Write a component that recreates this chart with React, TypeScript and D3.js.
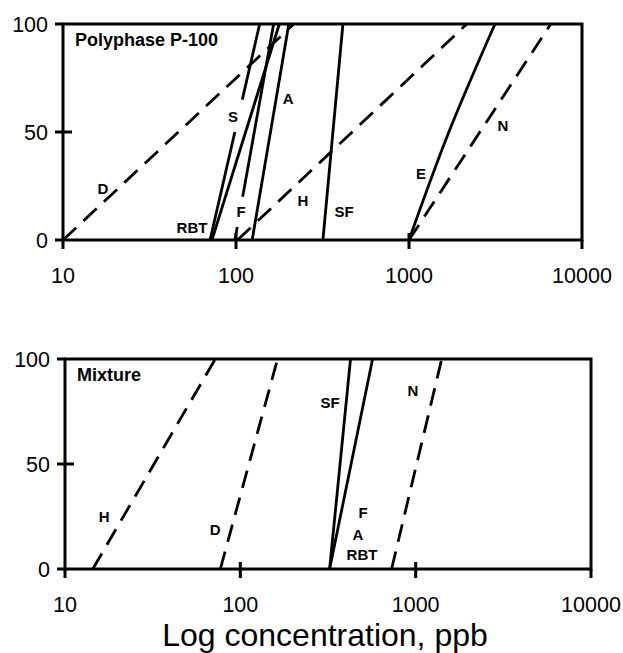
import React from "react";
import * as d3 from "d3";

// ---------- data ----------
const xTicks = [10, 100, 1000, 10000];
const yTicks = [0, 50, 100];
const xTickLabels = ["10", "100", "1000", "10000"];
const yTickLabels = ["0", "50", "100"];
const xTitle = "Log concentration, ppb";

// Top panel: Polyphase P-100 (each line: concentration at 0% and at 100%)
const topTitle = "Polyphase P-100";
const topNames = ["D", "S", "RBT", "F", "A", "H", "SF", "E", "N"];
const topDashed = [true, false, false, false, false, true, false, false, true];
const topPoints: number[][][] = [
  [[10, 0], [216, 100]],
  [[70.8, 0], [137, 100]],
  [[72.6, 0], [178, 100]],
  [[98.6, 0], [165, 100]],
  [[124, 0], [202, 100]],
  [[102, 0], [2160, 100]],
  [[318, 0], [415, 100]],
  [[1000, 0], [1700, 50], [3140, 100]],
  [[1000, 0], [6600, 100]],
];
// y-ranges (in %) where a line is interrupted by its label
const topGaps: (number[] | null)[] = [null, [50, 65], null, [6, 20], null, null, null, null, null];
const topLabelX = [17, 96, 55.7, 107, 200, 244, 421, 1172, 3491];
const topLabelY = [24, 57, 5.6, 13.4, 65.7, 18.5, 13, 30.6, 53];

// Bottom panel: Mixture
const botTitle = "Mixture";
const botDashed = [true, true, false, false, true];
const botPoints: number[][][] = [
  [[14.4, 0], [72, 100]],
  [[76.9, 0], [163, 100]],
  [[323, 0], [425, 100]],
  [[323, 0], [568, 100]],
  [[729, 0], [1408, 100]],
];
const botLabels = ["H", "D", "SF", "N", "F", "A", "RBT"];
const botLabelX = [16.7, 71.8, 325, 966, 501, 469, 494];
const botLabelY = [24.8, 18.6, 79.5, 85.2, 26.7, 16.2, 6.7];

const FONT = "'Liberation Sans', Arial, Helvetica, sans-serif";

type PanelProps = {
  left: number;
  right: number;
  top: number;
  bottom: number;
  title: string;
  points: number[][][];
  dashed: boolean[];
  gaps: (number[] | null)[];
  labels: string[];
  labelX: number[];
  labelY: number[];
};

function Panel(p: PanelProps) {
  const x = d3.scaleLog().domain([10, 10000]).range([p.left, p.right]);
  const y = d3.scaleLinear().domain([0, 100]).range([p.bottom, p.top]);
  const line = d3
    .line<number[]>()
    .x((d) => x(d[0]))
    .y((d) => y(d[1]))
    .curve(d3.curveNatural);

  // split a line into segments, removing the gap range
  const segs = (pts: number[][], gap: number[] | null): number[][][] => {
    if (!gap || pts.length !== 2) return [pts];
    const [a, b] = pts;
    const at = (v: number) => {
      const t = (v - a[1]) / (b[1] - a[1]);
      const lx = Math.log10(a[0]) + t * (Math.log10(b[0]) - Math.log10(a[0]));
      return [Math.pow(10, lx), v];
    };
    return [
      [a, at(gap[0])],
      [at(gap[1]), b],
    ];
  };

  return (
    <g>
      {p.points.map((pts, i) =>
        segs(pts, p.gaps[i]).map((s, j) => (
          <path
            key={`l${i}-${j}`}
            d={line(s) || ""}
            fill="none"
            stroke="#000"
            strokeWidth={2.8}
            strokeDasharray={p.dashed[i] ? "18,10" : undefined}
          />
        ))
      )}
      <rect
        x={p.left}
        y={p.top}
        width={p.right - p.left}
        height={p.bottom - p.top}
        fill="none"
        stroke="#000"
        strokeWidth={3}
      />
      {xTicks.map((t, i) => {
        const edge = i === 0 || i === xTicks.length - 1;
        return (
          <g key={`xt${i}`}>
            <line
              x1={x(t)}
              x2={x(t)}
              y1={edge ? p.bottom : p.bottom - 7}
              y2={p.bottom + 9}
              stroke="#000"
              strokeWidth={3}
            />
            <text
              x={x(t)}
              y={p.bottom + 43}
              textAnchor="middle"
              fontFamily={FONT}
              fontSize={21.5}
            >
              {xTickLabels[i]}
            </text>
          </g>
        );
      })}
      {yTicks.map((t, i) => {
        const mid = i === 1;
        return (
          <g key={`yt${i}`}>
            <line
              x1={p.left - 8}
              x2={mid ? p.left + 9 : p.left}
              y1={y(t)}
              y2={y(t)}
              stroke="#000"
              strokeWidth={3}
            />
            <text
              x={p.left - 15}
              y={y(t) + 8}
              textAnchor="end"
              fontFamily={FONT}
              fontSize={21.5}
            >
              {yTickLabels[i]}
            </text>
          </g>
        );
      })}
      <text
        x={p.left + 12}
        y={p.top + 22}
        fontFamily={FONT}
        fontSize={18}
        fontWeight="bold"
      >
        {p.title}
      </text>
      {p.labels.map((l, i) => (
        <text
          key={`lb${i}`}
          x={x(p.labelX[i])}
          y={y(p.labelY[i])}
          textAnchor="middle"
          dominantBaseline="central"
          fontFamily={FONT}
          fontSize={15}
          fontWeight="bold"
        >
          {l}
        </text>
      ))}
    </g>
  );
}

export default function App() {
  return (
    <svg
      width={623}
      height={653}
      style={{ position: "absolute", left: 0, top: 0, background: "#fff" }}
    >
      <rect x={0} y={0} width={623} height={653} fill="#fff" />
      <Panel
        left={63}
        right={582}
        top={24}
        bottom={240}
        title={topTitle}
        points={topPoints}
        dashed={topDashed}
        gaps={topGaps}
        labels={topNames}
        labelX={topLabelX}
        labelY={topLabelY}
      />
      <Panel
        left={65}
        right={591}
        top={359}
        bottom={569}
        title={botTitle}
        points={botPoints}
        dashed={botDashed}
        gaps={botPoints.map(() => null)}
        labels={botLabels}
        labelX={botLabelX}
        labelY={botLabelY}
      />
      <text
        x={325}
        y={646}
        textAnchor="middle"
        fontFamily={FONT}
        fontSize={32}
      >
        {xTitle}
      </text>
    </svg>
  );
}
